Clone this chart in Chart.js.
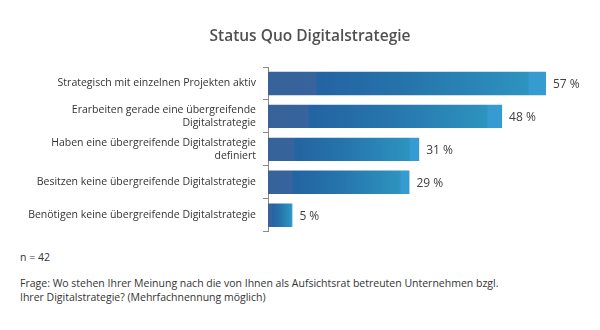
<!DOCTYPE html>
<html>
<head>
  <title>Status Quo Digitalstrategie</title>
  <script src="https://cdn.jsdelivr.net/npm/chart.js@4.4.0/dist/chart.umd.min.js"></script>
  <style>
    body {
      margin: 0;
      background: #fff;
      font-family: "Open Sans", sans-serif;
      color: #333;
    }
    #wrap {
      position: relative;
      width: 600px;
      height: 330px;
    }
    #chart-box {
      position: absolute;
      left: 0;
      top: 0;
      width: 600px;
      height: 245px;
    }
    #title {
      position: absolute;
      left: 110px;
      width: 400px;
      top: 24px;
      text-align: center;
      font-size: 15.5px;
      font-weight: 600;
      color: #505050;
    }
    .note {
      position: absolute;
      left: 20px;
      font-size: 10.5px;
      line-height: 14px;
      color: #333;
    }
  </style>
</head>
<body>
  <div id="wrap">
    <div id="chart-box"><canvas id="chart"></canvas></div>
    <div id="title">Status Quo Digitalstrategie</div>
    <div class="note" style="top:250px">n = 42</div>
    <div class="note" style="top:276px">Frage: Wo stehen Ihrer Meinung nach die von Ihnen als Aufsichtsrat betreuten Unternehmen bzgl.<br>Ihrer Digitalstrategie? (Mehrfachnennung möglich)</div>
  </div>

  <script>
    const categories = [
      'Strategisch mit einzelnen Projekten aktiv',
      ['Erarbeiten gerade eine übergreifende', 'Digitalstrategie'],
      ['Haben eine übergreifende Digitalstrategie', 'definiert'],
      'Besitzen keine übergreifende Digitalstrategie',
      'Benötigen keine übergreifende Digitalstrategie'
    ];
    const values = [57, 48, 31, 29, 5];
    const valueLabels = ['57 %', '48 %', '31 %', '29 %', '5 %'];

    // gradient per bar, running from the base to the end of the bar
    function barFill(context) {
      const chart = context.chart;
      const xs = chart.scales.x;
      if (!xs || !chart.chartArea) return '#2468a4';
      const x0 = xs.getPixelForValue(0);
      const x1 = xs.getPixelForValue(context.raw);
      if (!isFinite(x0) || !isFinite(x1) || x1 <= x0) return '#2468a4';
      const g = chart.ctx.createLinearGradient(x0, 0, x1, 0);
      g.addColorStop(0, '#38629a');
      g.addColorStop(0.17, '#36649c');
      g.addColorStop(0.18, '#2364a2');
      g.addColorStop(0.5, '#2674ab');
      g.addColorStop(0.935, '#2d93bf');
      g.addColorStop(0.94, '#369bd0');
      g.addColorStop(1, '#369bd0');
      return g;
    }

    const valueLabelPlugin = {
      id: 'valueLabels',
      afterDatasetsDraw(chart) {
        const ctx = chart.ctx;
        ctx.save();
        ctx.font = '12px "Open Sans", sans-serif';
        ctx.fillStyle = '#404040';
        ctx.textBaseline = 'middle';
        chart.getDatasetMeta(0).data.forEach((bar, i) => {
          ctx.fillText(valueLabels[i], bar.x + 7, bar.y + 1);
        });
        ctx.restore();
      }
    };

    new Chart(document.getElementById('chart'), {
      type: 'bar',
      data: {
        labels: categories,
        datasets: [{
          data: values,
          backgroundColor: barFill,
          borderWidth: 0,
          categoryPercentage: 1,
          barPercentage: 0.71
        }]
      },
      options: {
        indexAxis: 'y',
        responsive: true,
        maintainAspectRatio: false,
        animation: false,
        layout: { padding: { left: 0, top: 67, right: 15, bottom: 10 } },
        plugins: {
          legend: { display: false },
          tooltip: { enabled: false }
        },
        scales: {
          x: {
            display: false,
            min: 0,
            max: 65
          },
          y: {
            afterFit(scale) { scale.width = 268; },
            border: { display: true, color: '#8a8a8a', width: 1 },
            grid: {
              display: true,
              offset: true,
              drawOnChartArea: false,
              tickLength: 5,
              color: '#8a8a8a'
            },
            ticks: {
              color: '#333',
              padding: 7,
              font: { family: '"Open Sans", sans-serif', size: 10.5 },
              crossAlign: 'near'
            }
          }
        }
      },
      plugins: [valueLabelPlugin]
    });
  </script>
</body>
</html>
